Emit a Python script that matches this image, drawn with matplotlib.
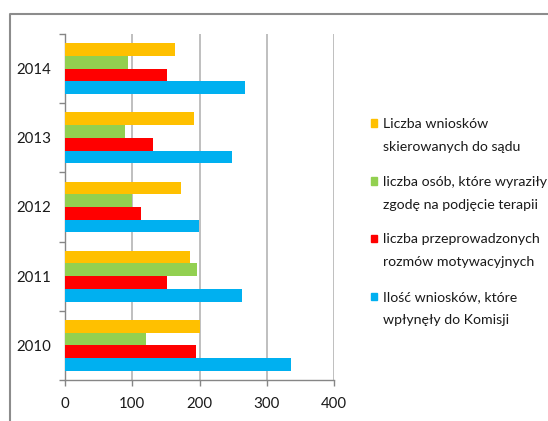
import matplotlib
matplotlib.use("Agg")
import matplotlib.pyplot as plt
from matplotlib.patches import Rectangle
from matplotlib.lines import Line2D
import numpy as np

years = ["2010", "2011", "2012", "2013", "2014"]
series_labels = [
    "Liczba wniosków\nskierowanych do sądu",
    "liczba osób, które wyraziły\nzgodę na podjęcie terapii",
    "liczba przeprowadzonych\nrozmów motywacyjnych",
    "Ilość wniosków, które\nwpłynęły do Komisji",
]
skierowane = [200, 185, 173, 191, 163]
zgoda = [121, 196, 99, 89, 93]
rozmowy = [195, 152, 113, 130, 152]
wplynely = [336, 263, 199, 248, 268]
colors = ["#FFC000", "#92D050", "#FF0000", "#00B0F0"]
xticks = [0, 100, 200, 300, 400]

W, H = 548, 421
fig = plt.figure(figsize=(W / 100, H / 100), dpi=100)
plt.rcParams['font.family'] = ['Lato', 'DejaVu Sans']

ax = fig.add_axes([65 / W, 41 / H, (334.3 - 65) / W, (387 - 41) / H])
y = np.arange(len(years))
h = 0.184
data = [skierowane, zgoda, rozmowy, wplynely]
offsets = [1.5 * h, 0.5 * h, -0.5 * h, -1.5 * h]
for vals, off, c in zip(data, offsets, colors):
    ax.barh(y + off, vals, height=h, color=c, zorder=3)

ax.set_xlim(0, 400)
ax.set_ylim(-0.5, len(years) - 0.5)
ax.set_xticks(xticks)
ax.set_xticklabels([str(t) for t in xticks], fontsize=10.8, color="#1a1a1a")
ax.set_yticks(y)
ax.set_yticklabels(years, fontsize=10.8, color="#1a1a1a")
ax.set_yticks(np.arange(-0.5, len(years), 1), minor=True)
ax.tick_params(axis="y", which="major", length=0, pad=10)
ax.tick_params(axis="y", which="minor", length=4, color="#868686", width=1)
ax.tick_params(axis="x", which="major", length=4, color="#868686", width=1, pad=8)
ax.grid(axis="x", color="#BFBFBF", linewidth=1.4, zorder=0)
ax.set_axisbelow(True)
for s in ["top", "right"]:
    ax.spines[s].set_visible(False)
for s in ["left", "bottom"]:
    ax.spines[s].set_color("#868686")
    ax.spines[s].set_linewidth(1)

# legend drawn manually: first line centred on the marker
leg_y = [123, 181, 238, 296]
for c, lab, yy in zip(colors, series_labels, leg_y):
    fig.patches.append(Rectangle((371 / W, 1 - (yy + 3.5) / H), 6 / W, 7 / H,
                                 transform=fig.transFigure, color=c, figure=fig))
    first, second = lab.split("\n")
    fig.text(383 / W, 1 - yy / H, first, fontsize=10.2, color="#1a1a1a",
             va="center_baseline", ha="left")
    fig.text(383 / W, 1 - (yy + 23) / H, second, fontsize=10.2, color="#1a1a1a",
             va="center_baseline", ha="left")

# outer frame (partially visible)
fig.add_artist(Line2D([10 / W, 10 / W, 1.0], [0, 1 - 14 / H, 1 - 14 / H],
                      transform=fig.transFigure, color="#8C8C8C", linewidth=1.5))

fig.savefig("out.png", dpi=100)
